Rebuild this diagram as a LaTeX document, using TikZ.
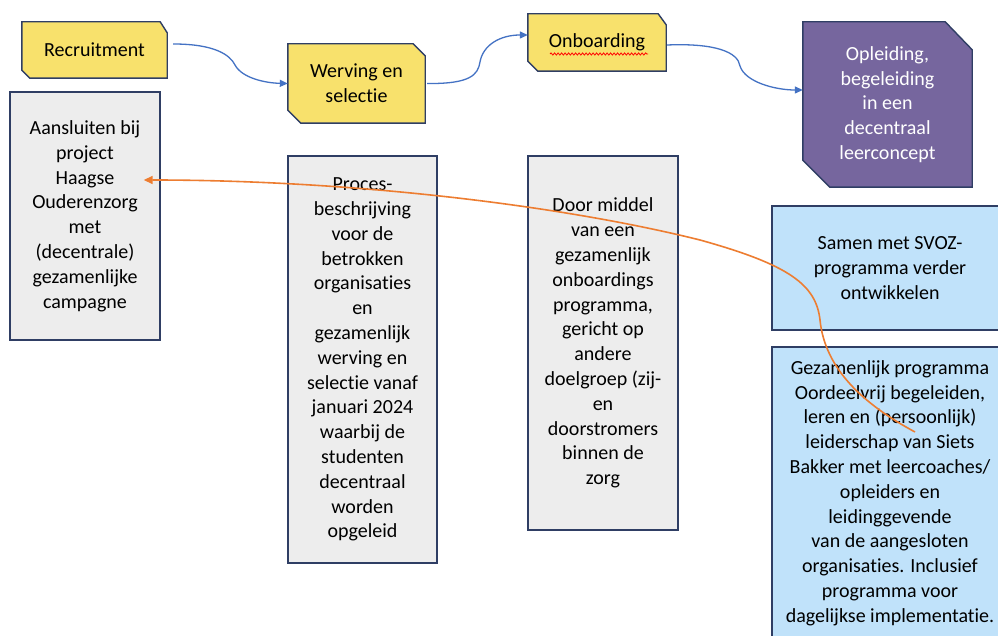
\documentclass[tikz,border=0pt]{standalone}
\usepackage{fontspec}
\setmainfont{Carlito}[Ligatures=NoCommon]
\usetikzlibrary{arrows.meta,backgrounds,decorations.pathmorphing}
\definecolor{yel}{RGB}{248,225,108}
\definecolor{navy}{RGB}{47,62,100}
\definecolor{gry}{RGB}{237,237,237}
\definecolor{purp}{RGB}{118,102,158}
\definecolor{lblue}{RGB}{192,226,250}
\definecolor{arrblue}{RGB}{68,114,196}
\definecolor{org}{RGB}{237,125,49}
\tikzset{
  txt/.style={inner sep=0pt, align=center, font=\fontsize{20}{24.8}\selectfont, text=black},
  box/.style={txt, draw=navy, line width=1.4pt},
  greybox/.style={box, fill=gry},
  bluebox/.style={box, fill=lblue},
  flow/.style={draw=arrblue, line width=1.3pt, -{Triangle[length=8pt,width=7pt]}},
  backflow/.style={draw=org, line width=1.6pt, -{Triangle[length=9pt,width=8pt]}},
  chamf/.style={draw=navy, line width=1.4pt, line join=miter}
}
\newcommand\mychamf[5]{%
  \begin{scope}[on background layer]
    \filldraw[chamf, fill=#5] (#1.north west) -- ([xshift=-#2pt]#1.north east) -- ([yshift=-#3pt]#1.north east)
      -- (#1.south east) -- ([xshift=#4pt]#1.south west) -- ([yshift=#4pt]#1.south west) -- cycle;
  \end{scope}}
\begin{document}
\begin{tikzpicture}[x=1pt,y=-1pt]
\useasboundingbox (0,0) rectangle (998,636);
\begin{scope}[on background layer]
\fill[white] (0,0) rectangle (998,636);
\end{scope}
\clip (0,0) rectangle (998,636);

% top row (chamfered)
\node[txt, minimum width=145pt, minimum height=56pt] (rec) at (94.5,50) {Recruitment};
\mychamf{rec}{7}{11}{8}{yel}
\node[txt, minimum width=137pt, minimum height=79pt] (wer) at (356.5,83.5) {Werving en\\selectie};
\mychamf{wer}{12}{12}{13}{yel}
\node[txt, minimum width=138pt, minimum height=57pt] (onb) at (597,42.5) {Onboarding};
\mychamf{onb}{8}{11}{10}{yel}
\node[txt, text=white, minimum width=169pt, minimum height=165pt] (opl) at (887.5,104.5) {Opleiding,\\begeleiding\\in een\\decentraal\\leerconcept};
\mychamf{opl}{27}{28}{27}{purp}

\draw[red, line width=0.8pt, decorate, decoration={snake, amplitude=1.1pt, segment length=3.5pt}]
  ([xshift=-47pt,yshift=-11.5pt]onb.center) -- ([xshift=51pt,yshift=-11.5pt]onb.center);

% description boxes
\node[greybox, minimum width=150pt, minimum height=248pt] (ans) at (85,216)
  {Aansluiten bij\\project\\Haagse\\Ouderenzorg\\met\\(decentrale)\\gezamenlijke\\campagne};
\node[greybox, minimum width=149pt, minimum height=407pt] (pro) at (362.5,359.5)
  {Proces-\\beschrijving\\voor de\\betrokken\\organisaties\\en\\gezamenlijk\\werving en\\selectie vanaf\\januari 2024\\waarbij de\\studenten\\decentraal\\worden\\opgeleid};
\node[greybox, minimum width=150pt, minimum height=374pt] (door) at (603,343)
  {Door middel\\van een\\gezamenlijk\\onboardings\\programma,\\gericht op\\andere\\doelgroep (zij-\\en\\doorstromers\\binnen de\\zorg};
\node[bluebox, minimum width=236pt, minimum height=124pt] (sam) at (890,268)
  {Samen met SVOZ-\\programma verder\\ontwikkelen};
\node[bluebox, minimum width=236pt, minimum height=292pt] (gez) at (890,493)
  {Gezamenlijk programma\\Oordeelvrij begeleiden,\\leren en (persoonlijk)\\leiderschap van Siets\\Bakker met leercoaches/\\opleiders en\\leidinggevende\\van de aangesloten\\organisaties. Inclusief\\programma voor\\dagelijkse implementatie.};

% flow arrows
\draw[flow] ([xshift=6pt,yshift=6pt]rec.east) .. controls (215,44) and (230,55) .. (235,65)
  .. controls (242,78) and (265,83) .. (wer.west);
\draw[flow] ([xshift=2pt]wer.east) .. controls (470,84) and (478,75) .. (480,62)
  .. controls (483,45) and (500,35) .. ([yshift=7.5pt]onb.west);
\draw[flow] ([xshift=1pt,yshift=-2.5pt]onb.east) .. controls (715,43) and (738,52) .. (740,66)
  .. controls (745,82) and (775,90) .. ([yshift=14.5pt]opl.west);

% orange back arrow
\coordinate (os) at (915,432);
\draw[backflow] (os) .. controls (865,405) and (825,370) .. (820,320)
  .. controls (816,285) and (790,265) .. (700,240)
  .. controls (560,205) and (350,180) .. ([xshift=-17pt,yshift=36pt]ans.east);
\end{tikzpicture}
\end{document}
